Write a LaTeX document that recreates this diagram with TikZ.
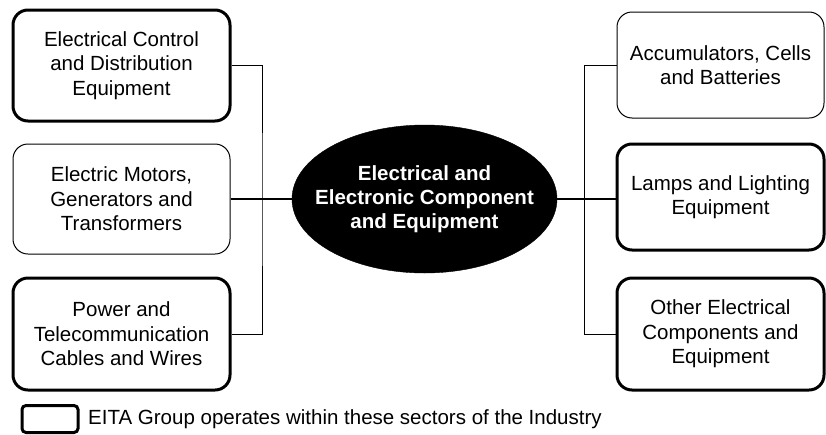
\documentclass[tikz,border=0pt]{standalone}
\usepackage{fontspec}
\setmainfont{Liberation Sans}
\usetikzlibrary{shapes.geometric}
\begin{document}
\begin{tikzpicture}[x=1pt,y=-1pt,
  sector/.style={draw=black,rounded corners=15pt,align=center,inner sep=0pt,
    font=\fontsize{20.5}{24.5}\selectfont,text=black},
  thickb/.style={line width=3pt},
  thinb/.style={line width=1pt},
  link/.style={draw=black,line width=1pt},
  mainlink/.style={draw=black,line width=1.8pt}]
\useasboundingbox (0,0) rectangle (826,434);
% left boxes
\node[sector,thickb,minimum width=217pt,minimum height=111pt] (L1) at (121.5,65.5) {Electrical Control\\and Distribution\\Equipment};
\node[sector,thinb,minimum width=217pt,minimum height=110pt] (L2) at (121.5,199) {Electric Motors,\\Generators and\\Transformers};
\node[sector,thickb,minimum width=217pt,minimum height=112pt] (L3) at (121.5,334) {Power and\\Telecommunication\\Cables and Wires};
% right boxes
\node[sector,thinb,minimum width=207pt,minimum height=106pt] (R1) at (720.5,65) {Accumulators, Cells\\and Batteries};
\node[sector,thickb,minimum width=207pt,minimum height=106pt] (R2) at (720.5,197) {Lamps and Lighting\\Equipment};
\node[sector,thickb,minimum width=207pt,minimum height=112pt] (R3) at (720.5,334) {Other Electrical\\Components and\\Equipment};
% centre ellipse
\node[ellipse,fill=black,draw=black,minimum width=265pt,minimum height=148pt,inner sep=0pt] (E) at (424.5,199) {};
\node[align=center,text=white,inner sep=0pt,font=\fontsize{20.5}{24}\selectfont\bfseries] (ET) at (E.center)
  {Electrical and\\Electronic Component\\and Equipment};
% junctions
\coordinate (jL) at (262,199);
\coordinate (jR) at (584,199);
\draw[link] (L1.east) -| (jL) |- (L3.east);
\draw[mainlink] (L2.east) -- (E.west);
\draw[link] (R1.west) -| (jR) |- (R3.west);
\draw[mainlink] (E.east) -- (jR) -- (R2.west |- jR);
% legend
\node[draw=black,line width=3pt,rounded corners=4pt,minimum width=56pt,minimum height=27pt,inner sep=0pt] (K) at (50,419) {};
\node[anchor=west,inner sep=0pt,font=\fontsize{20.5}{24}\selectfont] (KT) at (88,419) {EITA Group operates within these sectors of the Industry};
\end{tikzpicture}
\end{document}
